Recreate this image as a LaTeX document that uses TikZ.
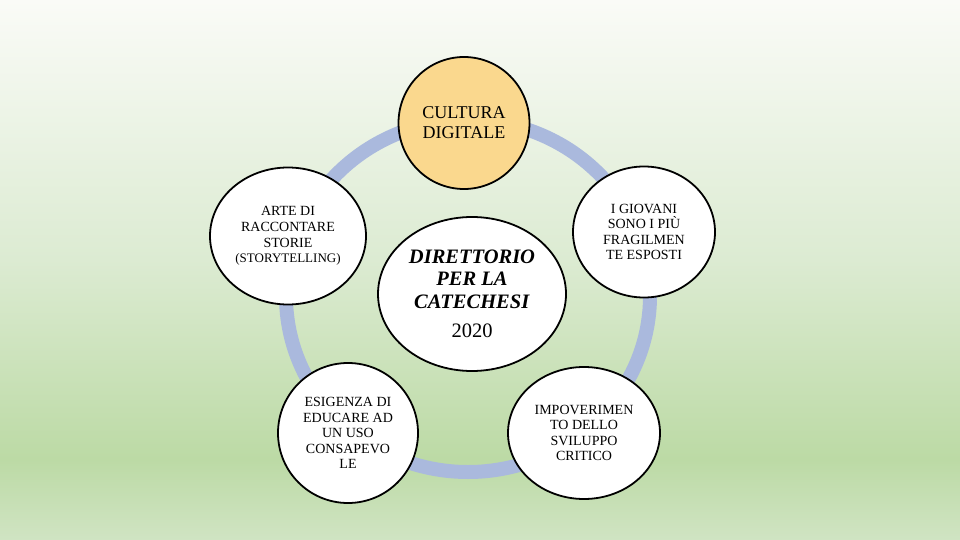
\documentclass[tikz,border=0pt]{standalone}
\usepackage{fontspec}
\setmainfont{Liberation Serif}
\usepackage{tikz}
\usetikzlibrary{shapes.geometric}

\definecolor{bgtop}{RGB}{250,251,247}
\definecolor{bgmid}{RGB}{220,235,210}
\definecolor{bggreen}{RGB}{188,218,165}
\definecolor{bgbot}{RGB}{208,228,195}
\definecolor{ringblue}{RGB}{170,185,221}
\definecolor{topicgold}{RGB}{250,216,142}

% the path is mapped onto 25bp--75bp of the shading
\pgfdeclareverticalshading{slidebg}{100bp}{color(0bp)=(bgbot); color(25bp)=(bgbot); color(32.5bp)=(bggreen); color(51bp)=(bgmid); color(75bp)=(bgtop); color(100bp)=(bgtop)}

\newcommand{\dirtitle}[1]{\textbf{\textit{#1}}}

\tikzset{
  topic/.style={ellipse, draw=black, line width=1.8pt, fill=white, inner sep=0pt,
    align=center, font=\fontsize{14}{15.6}\selectfont},
  hub/.style={topic, font=\fontsize{20.5}{22.5}\selectfont}
}

\begin{document}
\begin{tikzpicture}[x=1pt, y=-1pt]
    % Background
    \shade[shading=slidebg] (0,0) rectangle (960,540);
    \useasboundingbox (0,0) rectangle (960,540);

    % Ring behind the topics
    \draw[ringblue, line width=14pt] (468,296) ellipse [x radius=182, y radius=176];

    % Centre
    \node[hub, minimum width=188pt, minimum height=154pt] (direttorio) at (472,294) {\dirtitle{DIRETTORIO}\\ \dirtitle{PER LA}\\ \dirtitle{CATECHESI}\\[7pt] 2020};

    % Topics round the ring
    \node[topic, fill=topicgold, font=\fontsize{18}{20}\selectfont, minimum width=131pt, minimum height=132pt] (cultura) at (464,123) {CULTURA\\ DIGITALE};
    \node[topic, minimum width=156pt, minimum height=137pt] (storie) at (288,236) {ARTE DI\\ RACCONTARE\\ STORIE\\ \fontsize{13}{15.6}\selectfont (STORYTELLING)};
    \node[topic, minimum width=142pt, minimum height=131pt] (giovani) at (644,232) {I GIOVANI\\ SONO I PIÙ\\ FRAGILMEN\\ TE ESPOSTI};
    \node[topic, minimum width=140pt, minimum height=140pt] (educare) at (348,433) {ESIGENZA DI\\ EDUCARE AD\\ UN USO\\ CONSAPEVO\\ LE};
    \node[topic, minimum width=152pt, minimum height=132pt] (sviluppo) at (584,433) {IMPOVERIMEN\\ TO DELLO\\ SVILUPPO\\ CRITICO};
\end{tikzpicture}
\end{document}
